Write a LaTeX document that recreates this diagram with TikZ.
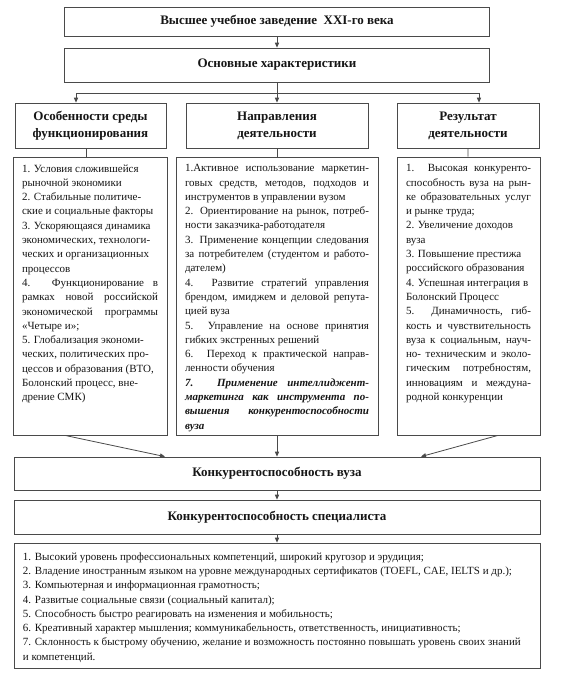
\documentclass[tikz,border=0pt]{standalone}
\usepackage{fontspec}
\setmainfont{Liberation Serif}
\usetikzlibrary{arrows.meta}
\definecolor{frame}{HTML}{4A4A4A}
\definecolor{ink}{HTML}{161616}

% top-aligned text block for the list boxes: width, height, content
\newcommand{\colbody}[3]{\parbox[c][#2][t]{#1}{%
    \exhyphenpenalty=10000 \hyphenpenalty=10000 \tolerance=10000
    \fontsize{11}{14.3}\selectfont\vspace*{2.5pt}#3}}

\begin{document}
\begin{tikzpicture}[
    x=1pt, y=-1pt,
    >={Triangle[length=5pt, width=4.2pt]},
    box/.style={
        rectangle, draw=frame, line width=0.8pt,
        fill=white, inner sep=0pt, text=ink,
    },
    titlebox/.style={box, minimum width=425, font=\fontsize{13}{16}\selectfont\bfseries},
    headbox/.style={box, minimum height=45, align=center,
        font=\fontsize{13}{17}\selectfont\bfseries},
    listbox/.style={box, inner xsep=9pt, inner ysep=5pt},
    widebox/.style={box, minimum width=526, font=\fontsize{13}{16}\selectfont\bfseries},
    link/.style={->, draw=frame, line width=0.8pt},
    tie/.style={draw=frame, line width=0.8pt},
]

\fill[white] (0,0) rectangle (576,678);
\useasboundingbox (0,0) rectangle (576,678);

% =====================================================================
% TITLE ROWS
% =====================================================================

\node[titlebox, minimum height=29] (top)   at (277, 21.5) {Высшее учебное заведение \ XXI-го века};
\node[titlebox, minimum height=34] (chars) at (277, 65)   {Основные характеристики};

\coordinate (split) at (277, 93);

% =====================================================================
% THREE COLUMN HEADERS
% =====================================================================

\node[headbox, minimum width=151] (envh) at (90.5, 125.5) {Особенности среды\\функционирования};
\node[headbox, minimum width=182] (dirh) at (277, 125.5)  {Направления\\деятельности};
\node[headbox, minimum width=142] (resh) at (468, 125.5)  {Результат\\деятельности};

\draw[link] (top) -- (chars);
\draw[tie]  (chars) -- (split);
\draw[link] (split) -| ([xshift=-14.5pt]envh.north);
\draw[link] (split) -- (dirh);
\draw[link] (split) -| ([xshift=11pt]resh.north);

% =====================================================================
% THREE COLUMN LISTS
% =====================================================================

\node[listbox] (envl) at (90, 296) {\colbody{136pt}{268pt}{%
1. Условия сложившейся\newline рыночной экономики\par
2. Стабильные политиче-\newline ские и социальные факторы\par
3. Ускоряющаяся динамика\newline экономических, технологи-\newline ческих и организационных\newline процессов\par
4. Функционирование в\linebreak рамках новой российской\linebreak экономической программы\linebreak «Четыре и»;\par
5. Глобализация экономи-\newline ческих, политических про-\newline цессов и образования (ВТО,\newline Болонский процесс, вне-\newline дрение СМК)}};

\node[listbox] (dirl) at (277, 296) {\colbody{184pt}{268pt}{%
1.Активное использование маркетин-\linebreak говых средств, методов, подходов и\linebreak инструментов в управлении вузом\par
2. Ориентирование на рынок, потреб-\linebreak ности заказчика-работодателя\par
3. Применение концепции следования\linebreak за потребителем (студентом и работо-\linebreak дателем)\par
4. Развитие стратегий управления\linebreak брендом, имиджем и деловой репута-\linebreak цией вуза\par
5. Управление на основе принятия\linebreak гибких экстренных решений\par
6. Переход к практической направ-\linebreak ленности обучения\par
{\bfseries\itshape 7. Применение интеллиджент-\linebreak маркетинга как инструмента по-\linebreak вышения конкурентоспособности\linebreak вуза}}};

\node[listbox] (resl) at (468.5, 296) {\colbody{125pt}{268pt}{%
1. Высокая конкуренто-\linebreak способность вуза на рын-\linebreak ке образовательных услуг\linebreak и рынке труда;\par
2. Увеличение доходов\newline вуза\par
3. Повышение престижа\newline российского образования\par
4. Успешная интеграция в\newline Болонский Процесс\par
5. Динамичность, гиб-\linebreak кость и чувствительность\linebreak вуза к социальным, науч-\linebreak но- техническим и эколо-\linebreak гическим потребностям,\linebreak инновациям и междуна-\linebreak родной конкуренции}};

\draw[tie] ([xshift=-4.5pt]envh.south) -- ([xshift=-4.5pt]envh.south |- envl.north);
\draw[tie] (dirh) -- (dirl);
\draw[tie] (resh) -- (resl);

% =====================================================================
% COMPETITIVENESS ROWS
% =====================================================================

\node[widebox, minimum height=33] (uni)  at (277, 473.5) {Конкурентоспособность вуза};
\node[widebox, minimum height=34] (spec) at (277, 517)   {Конкурентоспособность специалиста};

\node[listbox] (traits) at (277, 605.5) {\colbody{508pt}{115pt}{%
\vspace*{2pt}%
1. Высокий уровень профессиональных компетенций, широкий кругозор и эрудиция;\newline
2. Владение иностранным языком на уровне международных сертификатов (TOEFL, CAE, IELTS и др.);\newline
3. Компьютерная и информационная грамотность;\newline
4. Развитые социальные связи (социальный капитал);\newline
5. Способность быстро реагировать на изменения и мобильность;\newline
6. Креативный характер мышления; коммуникабельность, ответственность, инициативность;\newline
7. Склонность к быстрому обучению, желание и возможность постоянно повышать уровень своих знаний\newline
и компетенций.}};

\draw[link] ([xshift=-25pt]envl.south) -- ([xshift=-112pt]uni.north);
\draw[link] (dirl) -- (uni);
\draw[link] ([xshift=29.5pt]resl.south) -- ([xshift=144pt]uni.north);
\draw[link] (uni) -- (spec);
\draw[link] (spec) -- (traits);

\end{tikzpicture}
\end{document}
